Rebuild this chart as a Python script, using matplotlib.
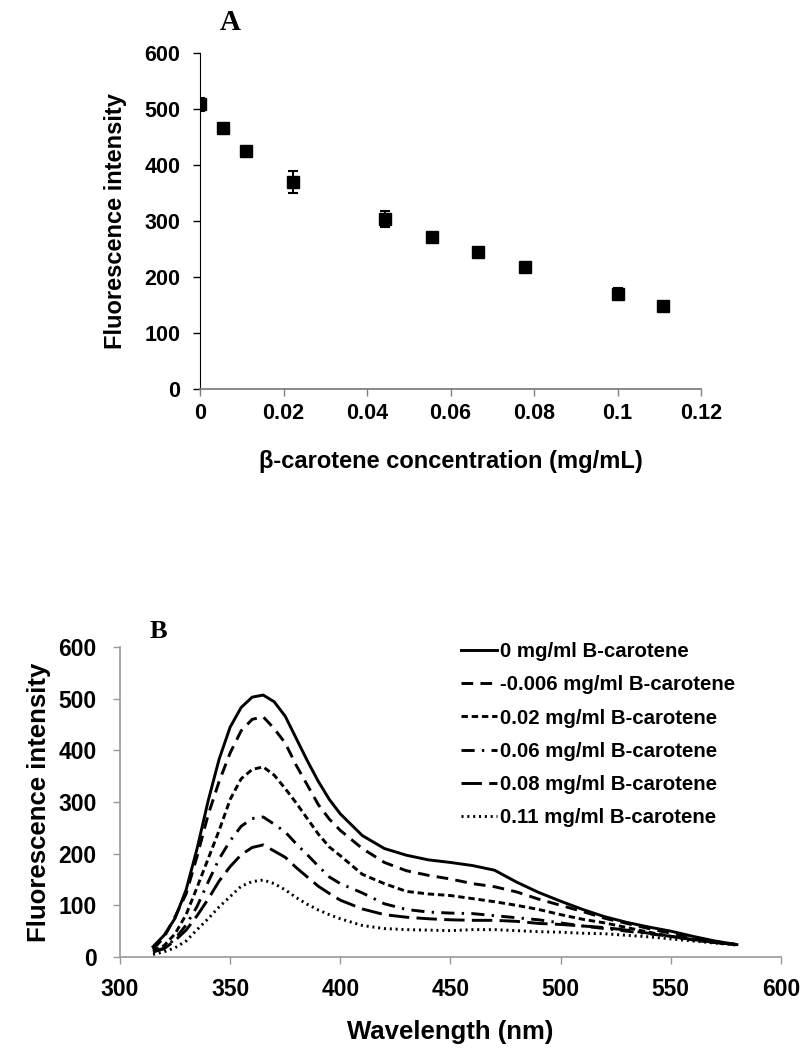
import matplotlib
matplotlib.use("Agg")
import matplotlib.pyplot as plt

plt.rcParams['font.family'] = ['Liberation Sans', 'DejaVu Sans']
plt.rcParams['font.weight'] = 'bold'

# Panel A: quenching data
conc = [0, 0.0056, 0.0111, 0.0222, 0.0444, 0.0555, 0.0667, 0.0778, 0.1, 0.111]
intensity = [508, 466, 425, 370, 303, 272, 245, 217, 170, 148]
intensity_err = [12, 4, 4, 20, 14, 4, 4, 4, 10, 4]
a_xticks = [0, 0.02, 0.04, 0.06, 0.08, 0.1, 0.12]
a_xticklabels = ["0", "0.02", "0.04", "0.06", "0.08", "0.1", "0.12"]
a_yticks = [0, 100, 200, 300, 400, 500, 600]

# Panel B: emission spectra
wl = [315, 320, 325, 330, 335, 340, 345, 350, 355, 360, 365, 370, 375, 380,
      385, 390, 395, 400, 410, 420, 430, 440, 450, 460, 470, 480, 490, 500,
      510, 520, 530, 540, 550, 560, 570, 580]
s_0 = [20, 42, 75, 130, 210, 302, 383, 445, 483, 503, 507, 494, 466, 423,
       380, 340, 305, 277, 235, 210, 197, 188, 183, 177, 168, 145, 125, 108,
       92, 78, 67, 58, 50, 40, 31, 24]
s_006 = [15, 38, 78, 122, 195, 275, 340, 395, 438, 460, 465, 442, 414, 371,
         333, 295, 267, 245, 210, 183, 167, 158, 151, 142, 136, 126, 112, 100,
         88, 75, 65, 55, 46, 38, 30, 24]
s_02 = [12, 22, 45, 82, 135, 190, 245, 305, 345, 363, 368, 352, 326, 298,
        268, 238, 213, 196, 160, 142, 127, 122, 119, 113, 107, 100, 92, 82,
        73, 66, 57, 48, 40, 33, 28, 24]
s_06 = [10, 17, 35, 62, 98, 145, 190, 225, 253, 268, 271, 257, 242, 219,
        198, 176, 155, 142, 124, 103, 92, 87, 85, 84, 80, 76, 72, 66,
        60, 55, 50, 45, 40, 34, 28, 24]
s_08 = [10, 16, 32, 52, 80, 112, 147, 175, 198, 212, 217, 205, 193, 173,
        155, 137, 123, 110, 93, 82, 77, 74, 72, 71, 71, 69, 65, 63,
        60, 57, 52, 46, 40, 34, 28, 24]
s_11 = [5, 10, 18, 31, 53, 74, 97, 117, 137, 146, 149, 142, 130, 115,
        102, 91, 82, 74, 61, 55, 53, 52, 51, 53, 53, 51, 49, 48,
        46, 45, 42, 39, 35, 31, 27, 23]
labels = ["0 mg/ml B-carotene", "-0.006 mg/ml B-carotene", "0.02 mg/ml B-carotene",
          "0.06 mg/ml B-carotene", "0.08 mg/ml B-carotene", "0.11 mg/ml B-carotene"]
b_xticks = [300, 350, 400, 450, 500, 550, 600]
b_yticks = [0, 100, 200, 300, 400, 500, 600]

fig = plt.figure(figsize=(8.01, 10.49), dpi=100)

# ---- A ----
axA = fig.add_axes([0.2497, 0.6292, 0.6255, 0.3203])
axA.errorbar(conc, intensity, yerr=intensity_err, fmt='s', color='black',
             markersize=8.5, ecolor='black', elinewidth=1.5, capsize=3.5, capthick=1.5)
axA.set_xlim(0, 0.12)
axA.set_ylim(0, 600)
axA.set_xticks(a_xticks)
axA.set_xticklabels(a_xticklabels)
axA.set_yticks(a_yticks)
for s in ['top', 'right']:
    axA.spines[s].set_visible(False)
axA.spines['left'].set_color('black')
axA.spines['bottom'].set_color('#808080')
axA.spines['bottom'].set_linewidth(1.3)
axA.tick_params(axis='y', direction='out', length=5, width=1, labelsize=15.5, pad=9)
axA.tick_params(axis='x', direction='out', length=5, width=1, color='#808080',
                labelsize=15.5, pad=5)
axA.set_xlabel("β-carotene concentration (mg/mL)", fontsize=17, fontweight='bold', labelpad=19)
axA.set_ylabel("Fluorescence intensity", fontsize=17, fontweight='bold', labelpad=13)
fig.text(230 / 801, 1 - 22 / 1049, "A", family='Liberation Serif', fontsize=21,
         fontweight='bold', ha='center', va='center')

# ---- B ----
axB = fig.add_axes([0.1498, 0.0877, 0.8252, 0.2955])
axB.plot(wl, s_0, color='black', lw=2.1, linestyle='-', label=labels[0])
axB.plot(wl, s_006, color='black', lw=2.1, linestyle=(0, (4, 2.5)), label=labels[1])
axB.plot(wl, s_02, color='black', lw=2.1, linestyle=(0, (2.2, 1.3)), label=labels[2])
axB.plot(wl, s_06, color='black', lw=2.1, linestyle=(0, (4.5, 2.5, 0.8, 2.5)), label=labels[3])
axB.plot(wl, s_08, color='black', lw=2.1, linestyle=(0, (7, 2.5)), label=labels[4])
axB.plot(wl, s_11, color='black', lw=2.1, linestyle=(0, (0.7, 1.3)), label=labels[5])
axB.set_xlim(300, 600)
axB.set_ylim(0, 600)
axB.set_xticks(b_xticks)
axB.set_yticks(b_yticks)
for s in ['top', 'right']:
    axB.spines[s].set_visible(False)
for s in ['left', 'bottom']:
    axB.spines[s].set_color('#999999')
    axB.spines[s].set_linewidth(1.2)
axB.tick_params(axis='both', direction='out', length=5, width=1, color='#999999',
                labelsize=16.5)
axB.tick_params(axis='x', pad=10)
axB.tick_params(axis='y', pad=12)
axB.set_xlabel("Wavelength (nm)", fontsize=18.5, fontweight='bold', labelpad=14)
axB.set_ylabel("Fluorescence intensity", fontsize=18.5, fontweight='bold', labelpad=5)
fig.text(158 / 801, 1 - 632 / 1049, "B", family='Liberation Serif', fontsize=19,
         fontweight='bold', ha='center', va='center')
axB.legend(loc='upper left', bbox_to_anchor=(461 / 801, 1 - 642 / 1049),
           bbox_transform=fig.transFigure, frameon=False, fontsize=14.7,
           handlelength=1.75, handletextpad=0.15, labelspacing=0.7,
           borderaxespad=0, borderpad=0)

fig.savefig("out.png", dpi=100)
